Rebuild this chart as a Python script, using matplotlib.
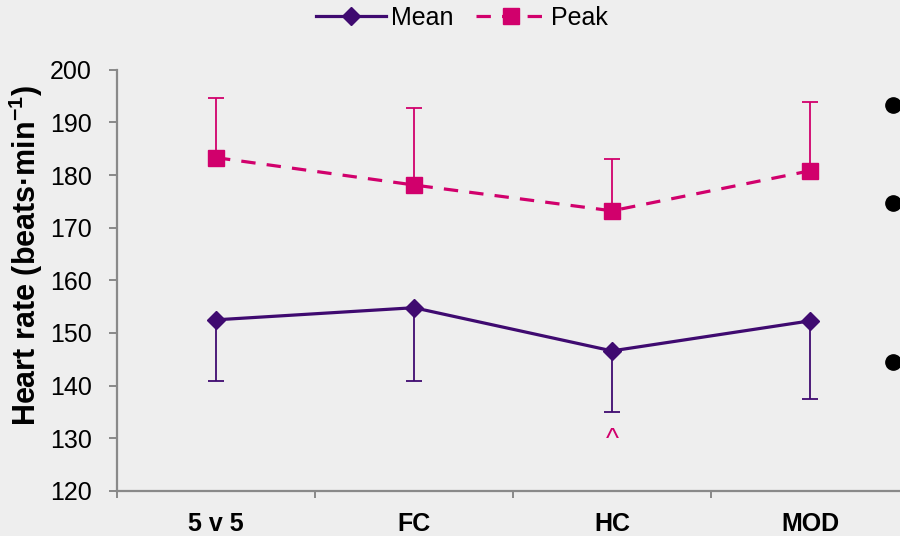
import matplotlib
matplotlib.use("Agg")
import matplotlib.pyplot as plt
from matplotlib.lines import Line2D
import numpy as np

plt.rcParams['font.family'] = ['Liberation Sans', 'DejaVu Sans']

categories = ['5 v 5', 'FC', 'HC', 'MOD']
mean_hr = [152.5, 154.8, 146.6, 152.3]
mean_low = [140.9, 140.9, 135.0, 137.5]
peak_hr = [183.3, 178.1, 173.2, 180.8]
peak_high = [194.7, 192.8, 183.1, 193.9]

bg = '#eeeeee'
purple = '#3f0a70'
pink = '#d1006c'
grey = '#898989'

fig = plt.figure(figsize=(9, 5.36), dpi=100, facecolor=bg)
ax = fig.add_axes([0.13, 0.084, 0.88, 0.786], facecolor=bg)

x = np.arange(len(categories))
m = np.array(mean_hr)
p = np.array(peak_hr)

ax.errorbar(x, m, yerr=[m - np.array(mean_low), np.zeros(len(x))], color=purple,
            lw=2.3, marker='D', ms=9, capsize=6, elinewidth=1.3, capthick=1.3)
ax.errorbar(x, p, yerr=[np.zeros(len(x)), np.array(peak_high) - p], color=pink,
            lw=2.3, ls=(0, (4.5, 3.5)), marker='s', ms=11, capsize=6,
            elinewidth=1.3, capthick=1.3)

ax.text(2, 129.6, '^', color=pink, ha='center', va='center', fontsize=20)

ax.set_xlim(-0.5, 3.5)
ax.set_ylim(120, 200)
ax.set_yticks(range(120, 201, 10))
ax.set_xticks([-0.5, 0.5, 1.5, 2.5, 3.5])
ax.set_xticklabels([])
ax.set_xticks(x, minor=True)
ax.set_xticklabels(categories, minor=True, fontweight='bold', fontsize=18)
ax.tick_params(axis='x', which='minor', length=0, pad=15)
ax.tick_params(axis='x', which='major', length=5, color=grey, width=1.4)
ax.tick_params(axis='y', length=6, color=grey, width=1.4, labelsize=18, pad=12)

for s in ['top', 'right']:
    ax.spines[s].set_visible(False)
for s in ['left', 'bottom']:
    ax.spines[s].set_color(grey)
    ax.spines[s].set_linewidth(1.6)

ax.set_ylabel('Heart rate (beats·min$^{\\mathregular{-1}}$)', fontweight='bold',
              fontsize=22)
ax.yaxis.set_label_coords(-0.091, 0.558)

handles = [Line2D([], [], color=purple, lw=2.3, marker='D', ms=9),
           Line2D([], [], color=pink, lw=2.3, ls=(0, (4.5, 3.5)), marker='s', ms=11)]
fig.legend(handles, ['Mean', 'Peak'], loc='center',
           bbox_to_anchor=(462 / 900, 1 - 18 / 536), ncol=2, frameon=False,
           fontsize=18, handlelength=2.8, columnspacing=0.9, handletextpad=0.2,
           borderpad=0)

for yy in [105, 203, 362]:
    fig.add_artist(Line2D([893 / 900], [1 - yy / 536], transform=fig.transFigure,
                          marker='o', ms=11, color='black', ls='none'))

fig.savefig('out.png', dpi=100, facecolor=bg)
